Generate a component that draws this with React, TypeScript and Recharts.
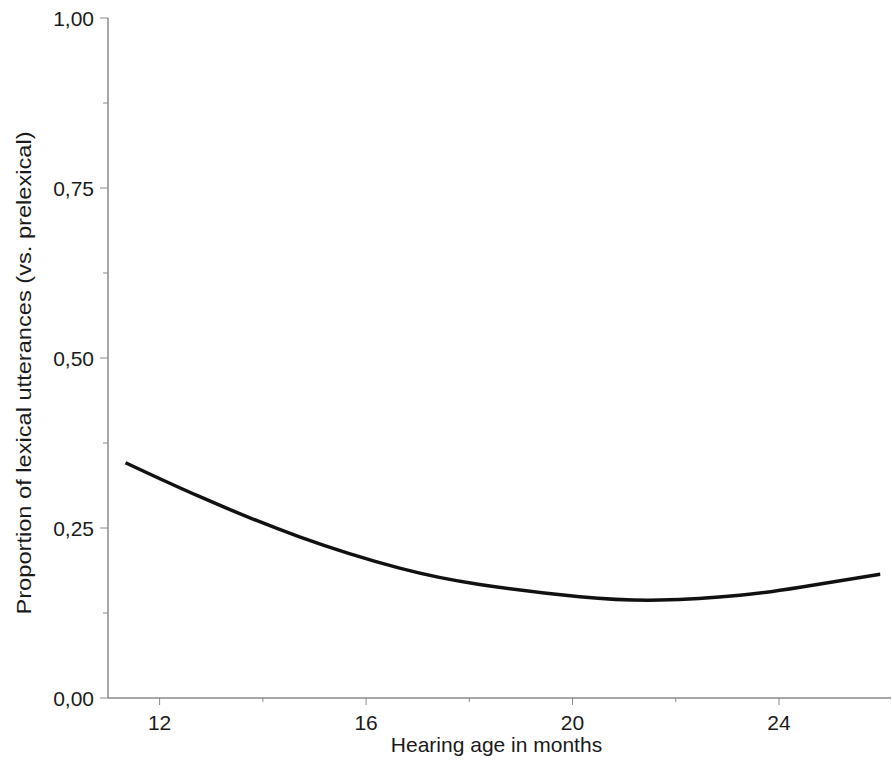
import React from 'react';
import { LineChart, Line, XAxis, YAxis, Label } from 'recharts';

// values
const months = [11.34, 12.78, 14.71, 16.65, 18.2, 20.14, 21.69, 23.24, 24.41, 25.96];
const proportions = [0.346, 0.296, 0.237, 0.191, 0.167, 0.149, 0.144, 0.151, 0.163, 0.182];

const xTicks = [12, 14, 16, 18, 20, 22, 24];
const xMajor = [12, 16, 20, 24];
const yTicks = [0, 0.125, 0.25, 0.375, 0.5, 0.625, 0.75, 0.875, 1];
const yMajor = [0, 0.25, 0.5, 0.75, 1];

const data = months.map((m, i) => ({ month: m, value: proportions[i] }));

const FONT = '"Liberation Sans", Arial, Helvetica, sans-serif';
const AXIS_GREY = '#8a8a8a';

const fmtY = (v: number) => v.toFixed(2).replace('.', ',');

const YTick = (props: any) => {
    const { x, y, payload } = props;
    const major = yMajor.includes(payload.value);
    return (
        <g>
            <line x1={x - (major ? 8 : 5)} x2={x} y1={y} y2={y} stroke={AXIS_GREY} strokeWidth={1} />
            {major && (
                <text x={x - 14} y={y} dy="0.36em" textAnchor="end" fontFamily={FONT} fontSize={21} fill="#1a1a1a">
                    {fmtY(payload.value)}
                </text>
            )}
        </g>
    );
};

const XTick = (props: any) => {
    const { x, y, payload } = props;
    const major = xMajor.includes(payload.value);
    return (
        <g>
            <line x1={x} x2={x} y1={y} y2={y + (major ? 7 : 4)} stroke={AXIS_GREY} strokeWidth={1} />
            {major && (
                <text x={x} y={y + 17} dy="0.71em" textAnchor="middle" fontFamily={FONT} fontSize={21} fill="#1a1a1a">
                    {payload.value}
                </text>
            )}
        </g>
    );
};

export default function App() {
    return (
        <div style={{ position: 'absolute', left: 0, top: 0, width: 892, height: 764, background: '#fff' }}>
            <LineChart width={892} height={764} data={data} margin={{ top: 18, right: 1, left: 0, bottom: 26 }}>
                <XAxis
                    dataKey="month"
                    type="number"
                    domain={[11, 26.17]}
                    ticks={xTicks}
                    allowDataOverflow
                    height={40}
                    tickSize={0}
                    tickMargin={0}
                    tickLine={false}
                    axisLine={{ stroke: AXIS_GREY, strokeWidth: 1.5 }}
                    tick={<XTick />}
                >
                    <Label
                        content={(p: any) => {
                            const vb = p.viewBox;
                            return (
                                <text x={vb.x + vb.width / 2 - 3} y={752} textAnchor="middle" fontFamily={FONT} fontSize={21} fill="#1a1a1a">
                                    Hearing age in months
                                </text>
                            );
                        }}
                    />
                </XAxis>
                <XAxis
                    xAxisId="top"
                    orientation="top"
                    type="number"
                    domain={[11, 26.17]}
                    height={0}
                    tick={false}
                    tickLine={false}
                    axisLine={{ stroke: AXIS_GREY, strokeWidth: 1.5 }}
                />
                <YAxis
                    type="number"
                    domain={[0, 1]}
                    ticks={yTicks}
                    width={108}
                    tickSize={0}
                    tickMargin={0}
                    tickLine={false}
                    axisLine={{ stroke: AXIS_GREY, strokeWidth: 1.5 }}
                    tick={<YTick />}
                >
                    <Label
                        content={(p: any) => {
                            const vb = p.viewBox;
                            const cy = vb.y + vb.height / 2 + 15;
                            return (
                                <text
                                    x={31}
                                    y={cy}
                                    transform={`rotate(-90, 31, ${cy})`}
                                    textAnchor="middle"
                                    textLength={483}
                                    lengthAdjust="spacingAndGlyphs"
                                    fontFamily={FONT}
                                    fontSize={20}
                                    fill="#1a1a1a"
                                >
                                    Proportion of lexical utterances (vs. prelexical)
                                </text>
                            );
                        }}
                    />
                </YAxis>
                <Line
                    type="natural"
                    dataKey="value"
                    stroke="#111"
                    strokeWidth={3.5}
                    dot={false}
                    isAnimationActive={false}
                />
            </LineChart>
        </div>
    );
}
